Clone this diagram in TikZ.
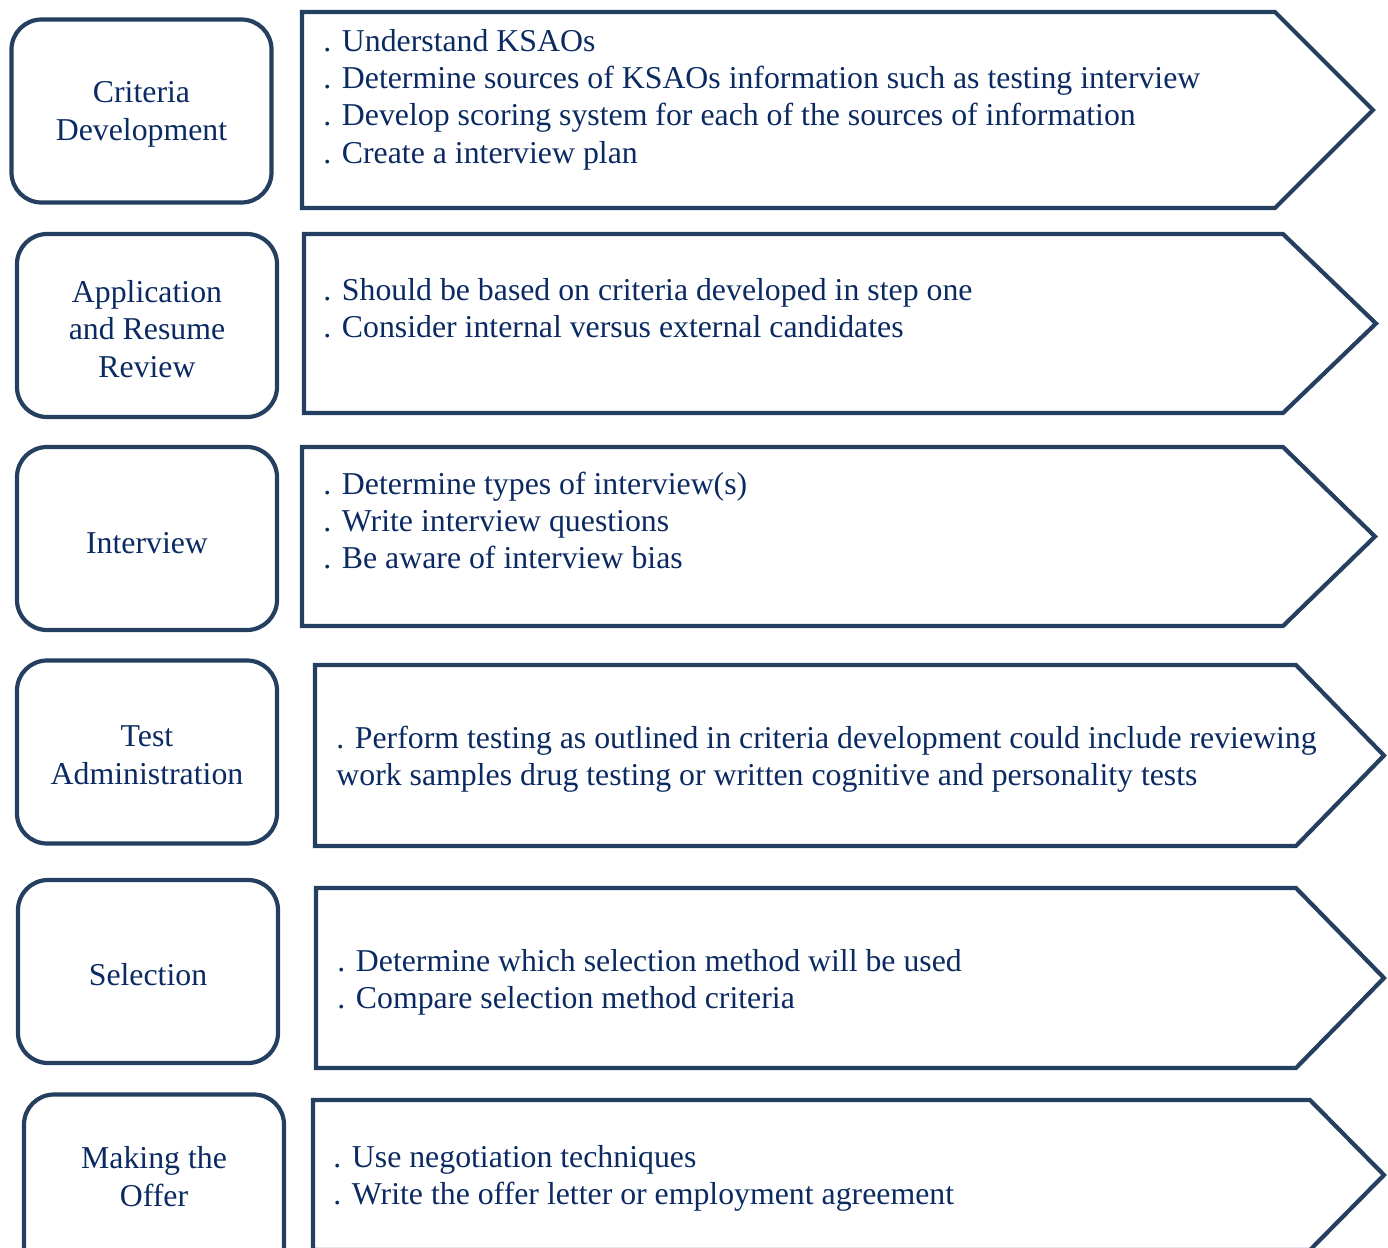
\documentclass[tikz,border=0pt]{standalone}
\usepackage{fontspec}
\setmainfont{Liberation Serif}
\definecolor{edge}{HTML}{243F60}
\definecolor{ink}{HTML}{0B2A62}
\tikzset{
  stagebox/.style={draw=edge, line width=2.1pt, rounded corners=15pt,
    minimum width=130pt, minimum height=91.5pt, inner sep=0pt},
  stagename/.style={text=ink, align=center, inner sep=0pt,
    font=\fontsize{15.9}{18.9}\selectfont},
  tasklist/.style={text=ink, align=left, anchor=west, inner sep=0pt,
    font=\fontsize{15.9}{18.7}\selectfont},
  chevron/.style={draw=edge, line width=2.1pt, line join=miter}
}
% pentagon arrow: left, top, bottom, shoulder x, tip x
\newcommand{\taskarrow}[5]{%
  \draw[chevron] (#1,#2) -- (#4,#2) -- (#5,{(#2+#3)/2}) -- (#4,#3) -- (#1,#3) -- cycle;}
\begin{document}
\begin{tikzpicture}[x=0.5pt, y=-0.5pt]
\useasboundingbox (0,0) rectangle (1388,1248);
\clip (0,0) rectangle (1388,1248);

% left-hand stage boxes
\node[stagebox] (s1) at (141.5,111) {};
\node[stagebox] (s2) at (147,325.5) {};
\node[stagebox] (s3) at (147,538.5) {};
\node[stagebox] (s4) at (147,752) {};
\node[stagebox] (s5) at (148,971.5) {};
\node[stagebox] (s6) at (154,1186) {};

\node[stagename] (n1) at (141.5,114) {Criteria\\Development};
\node[stagename] (n2) at (147,329) {Application\\and Resume\\Review};
\node[stagename] (n3) at (147,543) {Interview};
\node[stagename] (n4) at (147,755.5) {Test\\Administration};
\node[stagename] (n5) at (148,975) {Selection};
\node[stagename] (n6) at (154,1176.5) {Making the\\Offer};

% right-hand task arrows
\taskarrow{302}{12}{208}{1275}{1373}
\taskarrow{304}{234}{413}{1283}{1376}
\taskarrow{302}{447}{626}{1283}{1375}
\taskarrow{315}{665}{846}{1296}{1384}
\taskarrow{316}{888}{1068}{1296}{1384}
\taskarrow{313}{1100}{1250}{1310}{1384}

\node[tasklist] (l1) at (323,99.5) {. Understand KSAOs\\
. Determine sources of KSAOs information such as testing interview\\
. Develop scoring system for each of the sources of information\\
. Create a interview plan};
\node[tasklist] (l2) at (323,308) {. Should be based on criteria developed in step one\\
. Consider internal versus external candidates};
\node[tasklist] (l3) at (323,520.5) {. Determine types of interview(s)\\
. Write interview questions\\
. Be aware of interview bias};
\node[tasklist] (l4) at (336,759.5) {. Perform testing as outlined in criteria development could include reviewing\\
work samples drug testing or written cognitive and personality tests};
\node[tasklist] (l5) at (337,982.5) {. Determine which selection method will be used\\
. Compare selection method criteria};
\node[tasklist] (l6) at (333,1178.5) {. Use negotiation techniques\\
. Write the offer letter or employment agreement};
\end{tikzpicture}
\end{document}
